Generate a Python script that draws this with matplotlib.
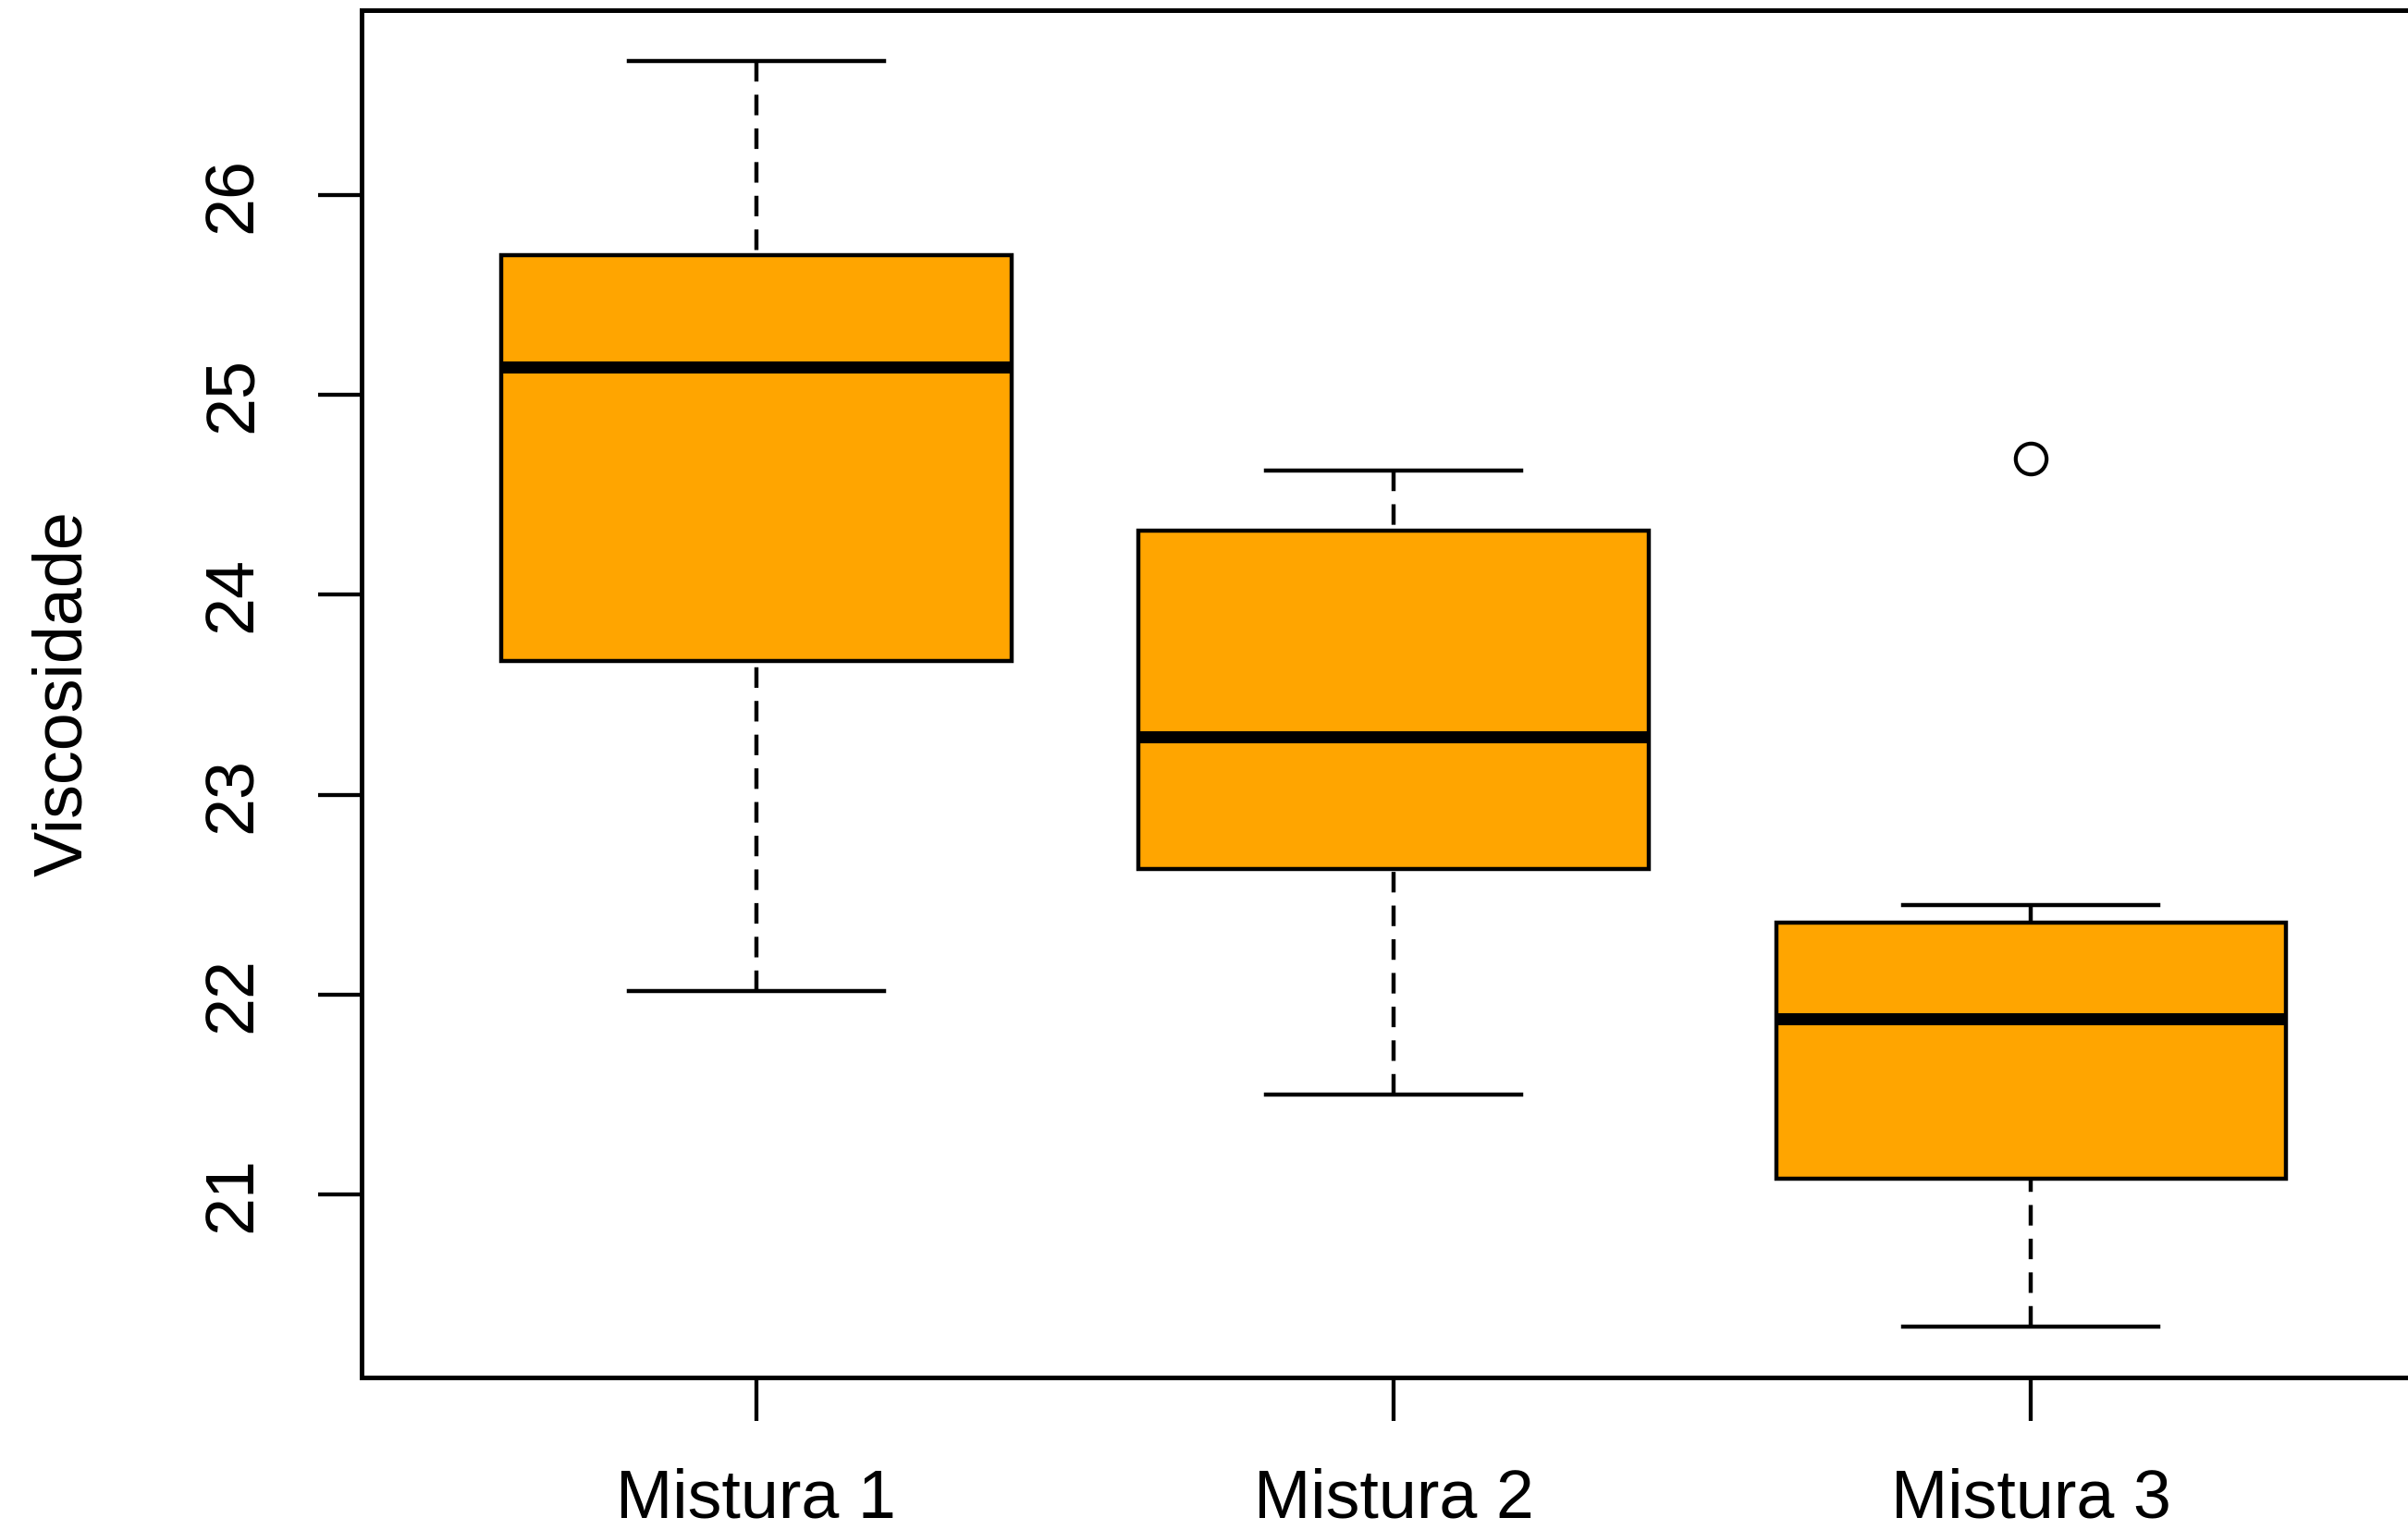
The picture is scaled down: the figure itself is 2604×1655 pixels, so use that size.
import matplotlib
matplotlib.use("Agg")
import matplotlib.pyplot as plt

# viscosity summary for each mixture (five-number summary + outliers)
grupos = ["Mistura 1", "Mistura 2", "Mistura 3"]
lim_inf = [22.02, 21.50, 20.34]
q1 = [23.67, 22.63, 21.08]
medianas = [25.14, 23.29, 21.88]
q3 = [25.70, 24.32, 22.36]
lim_sup = [26.67, 24.62, 22.45]
outliers = [[], [], [24.68]]

yticks = [21, 22, 23, 24, 25, 26]

plt.rcParams["font.family"] = ["Liberation Sans", "DejaVu Sans"]

fig = plt.figure(figsize=(26.04, 16.55), dpi=100)
ax = fig.add_axes([0.1500, 0.0997, 0.8575, 0.8937])

stats = []
for i, nome in enumerate(grupos):
    stats.append(dict(label=nome, whislo=lim_inf[i], q1=q1[i], med=medianas[i],
                      q3=q3[i], whishi=lim_sup[i], fliers=outliers[i]))

lw = 3.2
res = ax.bxp(stats, positions=[1, 2, 3], widths=0.8, capwidths=0.4,
             patch_artist=True, showfliers=True,
             boxprops=dict(facecolor="#FFA500", edgecolor="black", linewidth=lw),
             medianprops=dict(color="black", linewidth=9.4, solid_capstyle="butt"),
             whiskerprops=dict(color="black", linewidth=lw, linestyle=(0, (5.0, 3.2))),
             capprops=dict(color="black", linewidth=lw),
             flierprops=dict(marker="o", markersize=24, markerfacecolor="none",
                             markeredgecolor="black", markeredgewidth=3.0))

# dashes start at the whisker end, as in R's boxplot
for w in res["whiskers"]:
    w.set_data(w.get_xdata()[::-1], w.get_ydata()[::-1])
    w.set_zorder(1.5)

# R-style limits: 4% padding around the data range
lo = min(lim_inf)
hi = max(lim_sup + [v for o in outliers for v in o])
pad = 0.04 * (hi - lo)
ax.set_ylim(lo - pad, hi + pad)
ax.set_xlim(0.38, 3.62)

ax.set_yticks(yticks)
ax.set_yticklabels([str(v) for v in yticks], rotation=90, va="center")
ax.set_xticks([1, 2, 3])
ax.set_xticklabels(grupos)

ax.tick_params(axis="both", length=34, width=3.1, color="black",
               labelsize=53, labelcolor="black")
ax.tick_params(axis="y", pad=41)
ax.tick_params(axis="x", pad=36)

ax.set_ylabel("Viscosidade", fontsize=53, labelpad=82)

for side in ["left", "bottom", "top", "right"]:
    ax.spines[side].set_linewidth(3.6)
    ax.spines[side].set_color("black")

fig.savefig("out.png", dpi=100, facecolor="white")
